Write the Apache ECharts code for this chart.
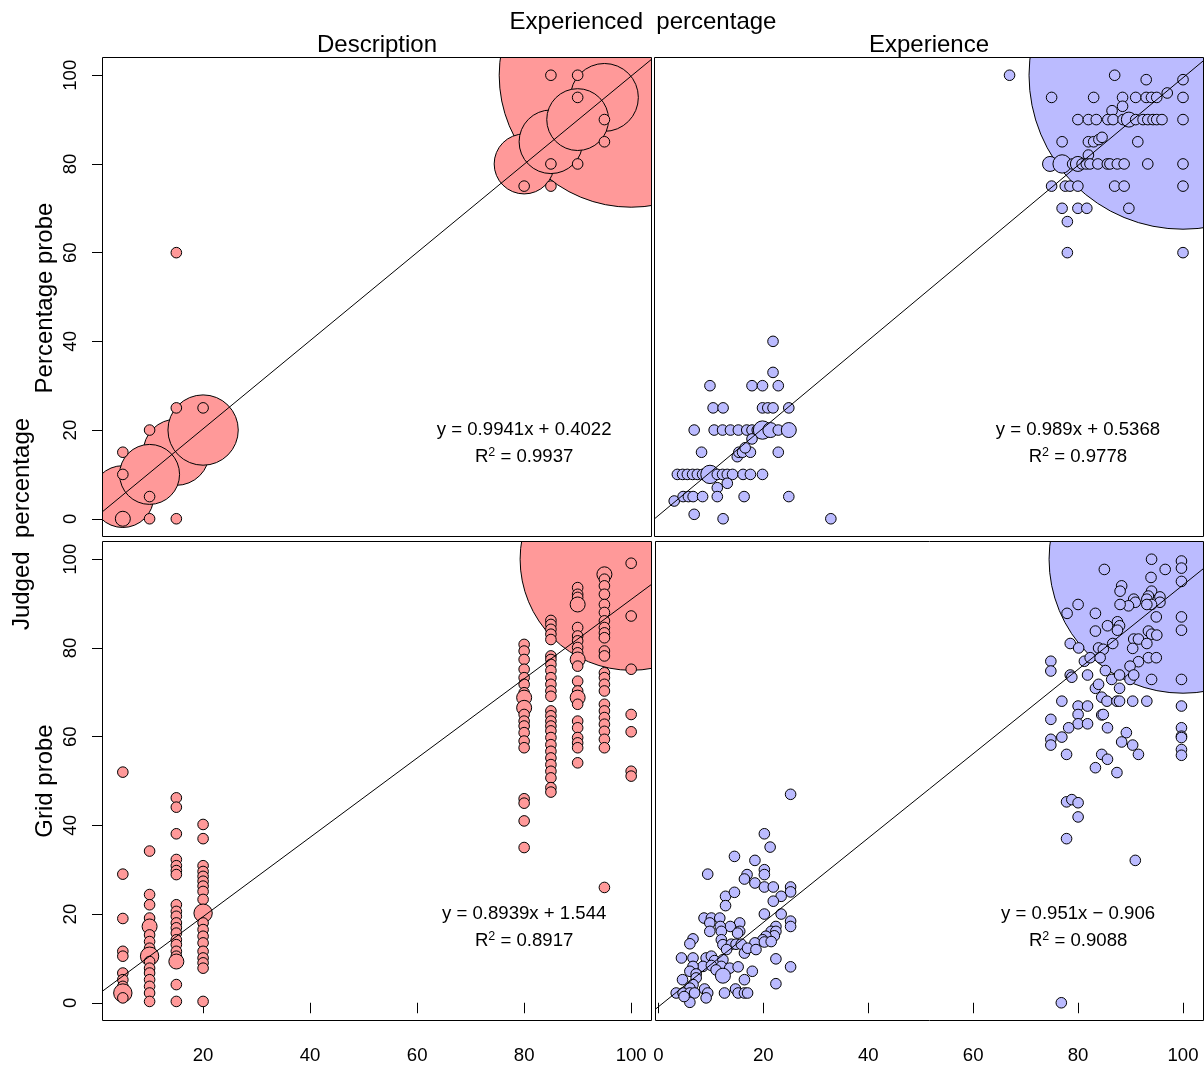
<!DOCTYPE html>
<html><head><meta charset="utf-8">
<script src="https://cdn.jsdelivr.net/npm/echarts@6/dist/echarts.min.js"></script>
<style>html,body{margin:0;padding:0;background:#fff}#c{width:1204px;height:1066px}</style>
</head><body><div id="c"></div>
<script>
// ---------- DATA ----------
// each point: [experienced %, judged %, count]
const descPct = [
  [100,100,620],[95,95,41],[80,80,32],[85,85,36],[90,90,34],
  [15,15,39],[5,5,34],[10,10,32],[20,20,44],
  [85,100,1],[90,100,1],[90,95,1],[95,90,1],[95,85,1],[85,80,1],[90,80,1],[80,75,1],[85,75,1],
  [15,60,1],[20,25,1],[15,25,1],[10,20,1],[5,15,1],[5,10,1],[10,5,1],[5,0,2],[10,0,1],[15,0,1]
];
const expPct = [
  [100,100,844],
  [67,100,1],[87,100,1],[93,99,1],[100,99,1],
  [75,95,1],[83,95,1],[88.5,95,1],[91,95,1],[93,95,1],[94,95,1],[95,95,1],[97,96,1],[100,95,1],
  [88.5,93,1],[86.5,92,1],
  [80,90,1],[82,90,1],[83.5,90,1],[85.7,90,1],[86.7,90,1],[88.6,90,1],[89.7,90,2],[91,90,1],[92.4,90,1],[93.3,90,1],[94.3,90,1],[95,90,1],[96,90,1],[100,90,1],
  [77,85,1],[82,85,1],[83,85,1],[84,85.5,1],[84.6,86,1],[91.4,85,1],[82,82,1],
  [74.7,80,2],[77,80,3],[79,80,1],[80,80,2],[80.8,80,1],[81.6,80,1],[82.3,80,1],[83.8,80,1],[85.6,80,1],[86.1,80,1],[87.5,80,1],[88.8,80,1],[93.3,80,1],[100,80,1],
  [75,75,1],[77.6,75,1],[78.5,75,1],[80,75,1],[87,75,1],[88.8,75,1],[100,75,1],
  [77,70,1],[80,70,1],[81.7,70,1],[89.7,70,1],[78,67,1],[78,60,1],[100,60,1],
  [22,40,1],[22,33,1],[10,30,1],[18,30,1],[20,30,1],[23,30,1],
  [10.6,25,1],[12.5,25,1],[20,25,1],[21,25,1],[22,25,1],[25,25,1],
  [7,20,1],[10.8,20,1],[12.4,20,1],[13.9,20,1],[15.4,20,1],[17,20,1],[18,20,1],[19,20,1],[20,20,3],[21.5,20,2],[23,20,1],[25,20,2],
  [18,18,1],[8.4,15,1],[15.2,14,1],[15.5,15,1],[16.2,15,1],[17.7,15,1],[23,15,1],[16.7,16,1],
  [3.8,10,1],[4.8,10,1],[5.7,10,1],[6.7,10,1],[7.6,10,1],[8.6,10,1],[9.5,10,1],[10,10,3],[11.4,10,1],[12.4,10,1],[13.3,10,1],[14.3,10,1],[16.3,10,1],[17.7,10,1],[20,10,1],
  [13.3,8,1],[11.4,7,1],
  [3.2,4,1],[4.9,5,1],[5.9,5,1],[6.8,5,1],[8.6,5,1],[11.4,5,1],[16.5,5,1],[25,5,1],
  [7,1,1],[12.5,0,1],[33,0,1]
];
const descGrid = [
  [100,100,439],
  [5,52,1],[5,29,1],[5,19,1],[5,11.6,1],[5,10.5,1],[5,6.7,1],[5,5.2,1],[5,3.7,1],[5,2.9,1],[5,2.2,3],[5,1.1,1],
  [10,34.2,1],[10,24.4,1],[10,22.1,1],[10,19.1,1],[10,17.2,2],[10,15.3,1],[10,13.8,1],[10,12.3,1],[10,10.5,3],[10,9.3,1],[10,7.8,1],[10,6.7,1],[10,5.2,1],[10,3.7,1],[10,2.2,1],[10,0.3,1],
  [15,46.2,1],[15,44.1,1],[15,38.1,1],[15,32.3,1],[15,30.9,1],[15,29.8,1],[15,28.9,1],[15,22.1,1],[15,20.6,1],[15,19.5,1],[15,18,1],[15,16.9,1],[15,15.7,1],[15,14.2,1],[15,13.1,1],[15,11.6,1],[15,10.5,1],[15,9.3,2],[15,4.1,1],[15,0.3,1],
  [20,40.2,1],[20,37,1],[20,30.9,1],[20,29.6,1],[20,28.5,1],[20,27.4,1],[20,26.3,1],[20,25.1,1],[20,23.3,1],[20,20.2,3],[20,18,1],[20,16.5,1],[20,15,1],[20,13.5,1],[20,11.6,1],[20,10.1,1],[20,9,1],[20,7.8,1],[20,0.3,1],
  [80,80.8,1],[80,79.3,1],[80,77.4,1],[80,75.2,1],[80,73.3,1],[80,71.8,1],[80,69.9,1],[80,68.8,2],[80,66.5,2],[80,65,1],[80,63.5,1],[80,62.4,1],[80,60.9,1],[80,59,1],[80,57.5,1],[80,46,1],[80,45,1],[80,41,1],[80,35,1],
  [85,86.2,1],[85,85.3,1],[85,84.2,1],[85,83.1,1],[85,81.9,1],[85,78.2,1],[85,77.4,1],[85,76.3,1],[85,74.9,1],[85,73.3,1],[85,71.8,1],[85,70.3,1],[85,69.1,1],[85,65.8,1],[85,64.7,1],[85,63.5,1],[85,62.4,1],[85,61.3,1],[85,59.8,1],[85,58.2,1],[85,56.7,1],[85,55.2,1],[85,53.7,1],[85,52.2,1],[85,50.7,1],[85,48.5,1],[85,47.5,1],
  [90,93.6,1],[90,92.1,1],[90,91.4,1],[90,89.8,2],[90,84.6,1],[90,82.7,1],[90,81.6,1],[90,80.1,1],[90,78.9,1],[90,77.4,2],[90,75.9,1],[90,72.5,1],[90,70.3,1],[90,68.8,2],[90,67.3,1],[90,63.5,1],[90,62,1],[90,59.8,1],[90,58.6,1],[90,57.5,1],[90,54.1,1],
  [95,96.6,2],[95,95.5,1],[95,94,1],[95,92.1,1],[95,89.8,1],[95,88,1],[95,86.1,1],[95,84.6,1],[95,83.4,1],[95,82.3,1],[95,79.3,1],[95,78.2,1],[95,74.4,1],[95,73.3,1],[95,71.8,1],[95,70.3,1],[95,67.3,1],[95,65.8,1],[95,64.3,1],[95,62.8,1],[95,61.2,1],[95,59.4,1],[95,57.5,1],[95,26,1],
  [100,99.1,1],[100,87.2,1],[100,75.2,1],[100,65,1],[100,61.1,1],[100,52.2,1],[100,51.1,1]
];
const expGrid = [
  [100,100,639],
  [94,100,1],[99.7,99.6,1],[99.7,98,1],[96.6,97.7,1],[85,97.7,1],[93.9,95.9,1],[99.7,95,1],[88.3,94,1],[88,92.8,1],
  [94,92.8,1],[93.4,91.7,1],[93.1,91,1],[95.6,91.5,1],[95.6,90.3,1],[94,89.8,1],[93.1,89.8,1],
  [90.6,91,1],[90.9,90.3,1],[89.6,89.5,1],[88,89.8,1],[80,89.8,1],[77.9,87.8,1],[83.3,87.8,1],[94.9,87,1],[99.7,87,1],[99.7,84,1],
  [85.6,85,1],[87.5,85.9,1],[87.9,85,1],[87.5,84,1],[83.3,83.8,1],[93.4,83.8,1],[94,83.1,1],[95,82.9,1],
  [78.5,81,1],[80.1,80,1],[83.9,80,1],[84.8,79.7,1],[86.6,81,1],[90.6,82,1],[91.5,82,1],[93.1,81,1],[90.4,79.9,1],
  [74.8,77,1],[74.8,74.8,1],[81.2,77,1],[82.3,77.8,1],[84.2,77.8,1],[93.4,77.8,1],[94.9,77.8,1],[91.5,76.9,1],[89.9,75.9,1],[85.2,74.9,1],
  [78.5,73.9,1],[78.8,73.4,1],[81.8,73.9,1],[86.4,72.9,1],[87.9,73.9,1],[87.9,70.9,1],[89.9,72.9,1],[90.6,73.9,1],[94,72.9,1],[99.7,72.9,1],
  [83.3,70.9,1],[83.9,71.8,1],[84.5,68.9,1],[85.5,68,1],[87.4,68,1],[87.9,68,1],[90.4,68,1],[93.1,68,1],[76.9,68,1],
  [99.7,66.9,1],[80,66.9,1],[81.8,66.9,1],[80,65,1],[84.5,64.9,1],[84.8,65,1],[74.8,63.9,1],[80,62.9,1],[81.8,62.9,1],[78.2,62,1],[85.6,62,1],
  [99.7,62,1],[99.7,60.1,1],[99.7,59.8,1],[89.2,60.9,1],[76.9,59.9,1],[74.8,59.4,1],[74.8,58.1,1],[88.3,58.8,1],[90.4,58.1,1],[91.5,56,1],
  [77.8,56,1],[84.5,56,1],[85.6,54.9,1],[99.7,57.1,1],[99.7,55.8,1],[83.3,53,1],[87.4,51.9,1],
  [77.8,45.3,1],[78.8,45.8,1],[80,45.1,1],[80,41.9,1],[77.8,37,1],[90.9,32.1,1],[76.8,0,1],
  [25.2,47,1],[20.2,38.1,1],[21.3,35.1,1],[14.5,33,1],[18.4,32.1,1],[9.4,29,1],[20.2,30,1],[20.2,28.9,1],[16.9,28.9,1],[16.4,27.9,1],[18.4,27,1],
  [20.2,26.1,1],[21.9,26.1,1],[25.2,26.1,1],[25.2,25,1],[23.4,24,1],[21.9,22.9,1],[12.8,24,1],[14.5,24.9,1],[12.8,21.9,1],[20.2,20,1],[23.4,20,1],
  [8.7,19.1,1],[10.1,19.1,1],[11.7,19.1,1],[9.8,18,1],[15.5,18,1],[13.7,17.2,1],[11.8,17.2,1],[22.4,17.2,1],[21.5,16.1,1],[22.4,16.1,1],[22.1,15.1,1],[20.5,15,1],[19.9,14.2,1],
  [25.2,18.4,1],[25.2,17.2,1],[15.5,16.1,1],[15.1,15.7,1],[9.8,16.1,1],[12,16.1,1],[6.6,14.4,1],[6,13.3,1],[12,14.2,1],[12.3,13.1,1],
  [13.9,13.2,1],[14.8,13.2,1],[15.8,13.2,1],[18.4,13.5,1],[20.2,13.7,1],[21.5,13.8,1],[13,12,1],[16.4,11.2,1],[17,12.3,1],[18.6,12,1],
  [4.4,10.1,1],[6.6,10.1,1],[9.1,10.1,1],[10.1,10.5,1],[10.7,9.5,1],[12.3,9.7,1],[12,8.2,1],[13.6,7.8,1],[15.2,8.1,1],[8.5,8.2,1],[6.6,8.2,1],
  [6,7.1,1],[7.2,6.5,1],[7.2,5.6,1],[10.1,8.4,1],[11,7.4,1],[12.3,6.1,2],[16.4,5.2,1],[17.9,7.1,1],[22.4,9.9,1],[25.2,8.1,1],[22.4,4.3,1],
  [4.6,5.2,1],[6.6,4.1,1],[6,3.3,1],[3.4,2.2,1],[4.7,2.2,1],[6,2.2,1],[6.9,2.2,1],[8.8,3.1,1],[9.4,2.2,1],[12.6,2.2,1],[14.7,3.1,1],[15.2,2.2,1],[16.4,2.2,1],[17,2.2,1],
  [9.1,1.1,1],[6,0.1,1],[4.9,1.4,1]
];
const slopes = [0.9941, 0.989, 0.8939, 0.951];
const intercepts = [0.4022, 0.5368, 1.544, -0.906];
const r2Values = ['0.9937', '0.9778', '0.8917', '0.9088'];
const yTicks = [0, 20, 40, 60, 80, 100];
const xTicksLeft = [20, 40, 60, 80, 100];
const xTicksRight = [0, 20, 40, 60, 80, 100];
const columnTitles = ['Description', 'Experience'];
const rowTitles = ['Percentage probe', 'Grid probe'];
const mainTitle = 'Experienced  percentage';
const yTitle = 'Judged  percentage';
const eqAnchor = [80, 20];
const r2Anchor = [80, 14];

// ---------- STYLE / LAYOUT ----------
const FONT = '"Liberation Sans", Arial, Helvetica, sans-serif';
const PINK = '#FF9999', BLUE = '#BBBBFF';
const R1 = 5.3;
const panels = [
  {data: descPct, color: PINK, grid: {left: 102.5, top: 57.5, width: 549, height: 479}, xr: [1.2, 103.8], bottom: false, leftCol: true, xt: xTicksLeft},
  {data: expPct, color: BLUE, grid: {left: 654.5, top: 57.5, width: 549, height: 479}, xr: [-0.55, 103.9], bottom: false, leftCol: false, xt: xTicksRight},
  {data: descGrid, color: PINK, grid: {left: 102.5, top: 541.5, width: 549, height: 479}, xr: [1.2, 103.8], bottom: true, leftCol: true, xt: xTicksLeft},
  {data: expGrid, color: BLUE, grid: {left: 655.5, top: 541.5, width: 548, height: 479}, xr: [-0.55, 103.9], bottom: true, leftCol: false, xt: xTicksRight}
];
const YR = [-4, 104];
const TICK_FS = 18.6;
const TITLE_FS = 24;

const grids = [], xAxes = [], yAxes = [], series = [];
panels.forEach(function (p, i) {
  grids.push(Object.assign({show: true, borderColor: '#000', borderWidth: 1, backgroundColor: 'transparent', z: 10}, p.grid));
  xAxes.push({
    gridIndex: i, type: 'value', min: p.xr[0], max: p.xr[1],
    axisLine: {show: false}, splitLine: {show: false},
    axisTick: {show: p.bottom, length: 10.5, lineStyle: {color: '#000', width: 1}, customValues: p.xt},
    axisLabel: {show: p.bottom, customValues: p.xt, color: '#000', fontSize: TICK_FS, fontFamily: FONT, margin: 26}
  });
  yAxes.push({
    gridIndex: i, type: 'value', min: YR[0], max: YR[1],
    axisLine: {show: false}, splitLine: {show: false},
    axisTick: {show: p.leftCol, length: 10.5, lineStyle: {color: '#000', width: 1}, customValues: yTicks},
    axisLabel: {show: p.leftCol, customValues: yTicks, rotate: 90, color: '#000', fontSize: TICK_FS, fontFamily: FONT, margin: 22}
  });
  const color = p.color;
  series.push({
    type: 'custom', xAxisIndex: i, yAxisIndex: i, clip: true, silent: true, z: 2,
    encode: {x: 0, y: 1}, data: p.data,
    renderItem: function (params, api) {
      const c = api.coord([api.value(0), api.value(1)]);
      return {type: 'circle', shape: {cx: c[0], cy: c[1], r: R1 * Math.sqrt(api.value(2))},
        style: {fill: color, stroke: '#000', lineWidth: 1}};
    }
  });
  const a = slopes[i], b = intercepts[i];
  series.push({
    type: 'line', xAxisIndex: i, yAxisIndex: i, clip: true, silent: true, z: 3, symbol: 'none',
    lineStyle: {color: '#000', width: 1},
    data: [[p.xr[0], a * p.xr[0] + b], [p.xr[1], a * p.xr[1] + b]]
  });
});

function txt(x, y, text, fs, rot, extra) {
  const el = {type: 'text', x: x, y: y, z: 20, silent: true,
    style: Object.assign({text: text, fontSize: fs, fontFamily: FONT, fill: '#000', align: 'center', verticalAlign: 'middle'}, extra || {})};
  if (rot) el.rotation = rot;
  return el;
}

const chart = echarts.init(document.getElementById('c'), null, {renderer: 'canvas'});
chart.setOption({
  animation: false, backgroundColor: '#fff',
  grid: grids, xAxis: xAxes, yAxis: yAxes, series: series
});

const graphics = [
  txt(643, 22, mainTitle, TITLE_FS),
  txt(377, 45, columnTitles[0], TITLE_FS),
  txt(929, 45, columnTitles[1], TITLE_FS),
  txt(22, 524, yTitle, TITLE_FS, Math.PI / 2),
  txt(45, 298, rowTitles[0], TITLE_FS, Math.PI / 2),
  txt(45, 781, rowTitles[1], TITLE_FS, Math.PI / 2)
];
panels.forEach(function (p, i) {
  const a = slopes[i], b = intercepts[i];
  const eq = 'y = ' + a + 'x ' + (b < 0 ? '\u2212 ' + (-b) : '+ ' + b);
  const p1 = chart.convertToPixel({gridIndex: i}, eqAnchor);
  const p2 = chart.convertToPixel({gridIndex: i}, r2Anchor);
  graphics.push(txt(p1[0], p1[1], eq, TICK_FS));
  graphics.push(txt(p2[0], p2[1], 'R{s|2} = ' + r2Values[i], TICK_FS, 0, {
    lineHeight: 22,
    rich: {s: {fontSize: 12.5, fontFamily: FONT, fill: '#000', verticalAlign: 'top', lineHeight: 14}}
  }));
});
chart.setOption({graphic: graphics});
</script></body></html>
